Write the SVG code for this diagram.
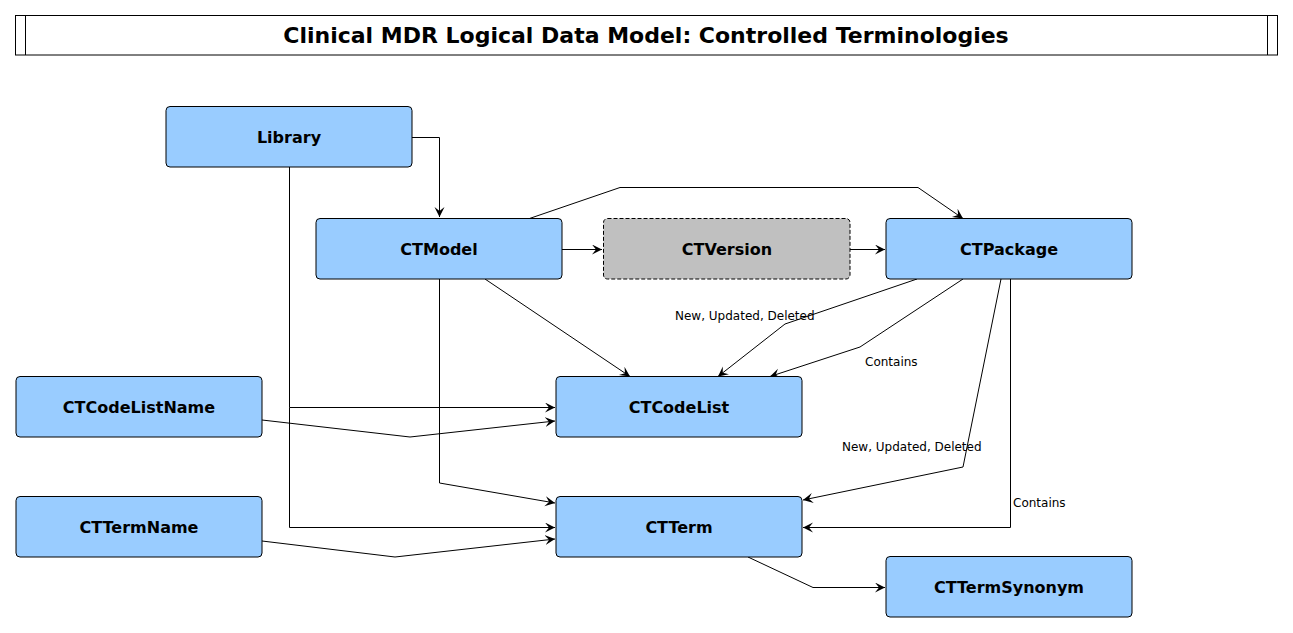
<svg xmlns="http://www.w3.org/2000/svg" width="1293" height="633" viewBox="0 0 1293 633">
<style>
.n rect{fill:#99ccff;stroke:#000;stroke-width:1}
.n text,.t{font-family:"DejaVu Sans",sans-serif;font-weight:bold;font-size:16px;text-anchor:middle;fill:#000}
.e path{fill:none;stroke:#000;stroke-width:1;marker-end:url(#a)}
.l{font-family:"DejaVu Sans",sans-serif;font-size:12px;fill:#000}
</style>
<defs>
<marker id="a" markerWidth="12" markerHeight="12" refX="10" refY="5" orient="auto" markerUnits="userSpaceOnUse">
<path d="M0,0 L10,5 L0,10 L4,5 Z" fill="#000"/>
</marker>
</defs>
<rect width="1293" height="633" fill="#fff"/>
<g id="title">
<rect x="15.5" y="15.5" width="1262" height="39.5" fill="#fff" stroke="#000"/>
<line x1="25.5" y1="15.5" x2="25.5" y2="55" stroke="#000"/>
<line x1="1267.5" y1="15.5" x2="1267.5" y2="55" stroke="#000"/>
<text class="t" x="646" y="43" style="font-size:22px">Clinical MDR Logical Data Model: Controlled Terminologies</text>
</g>
<g class="e" id="connectors">
<path d="M412,137.5 H439.5 V217"/>
<path d="M562,249.5 H602"/>
<path d="M850,249.5 H885"/>
<path d="M528,219 L620,187.5 H918 L963,218.5"/>
<path d="M485,279 L630,376.5"/>
<path d="M439.5,279 V483 L555,503"/>
<path d="M289.5,167 V407.5 H555"/>
<path d="M289.5,407.5 V527.5 H555"/>
<path d="M262,420 L410,437 L555,421"/>
<path d="M262,541 L395,557 L555,539"/>
<path d="M917,279 L785,324 L718,376.5"/>
<path d="M963,279 L860,347 L770,376.5"/>
<path d="M1001,279 L963,467 L803,500"/>
<path d="M1010.5,279 V527.5 H803"/>
<path d="M748,557 L813,587.5 H885"/>
</g>
<text class="l" x="675" y="320">New, Updated, Deleted</text>
<text class="l" x="865" y="366">Contains</text>
<text class="l" x="842" y="451">New, Updated, Deleted</text>
<text class="l" x="1013" y="507">Contains</text>
<g class="n" id="Library"><rect x="166" y="106.5" width="246" height="60.5" rx="4"/><text x="289" y="143">Library</text></g>
<g class="n" id="CTModel"><rect x="316" y="218.5" width="246" height="60.5" rx="4"/><text x="439" y="255">CTModel</text></g>
<g class="n" id="CTVersion"><rect x="603.5" y="218.5" width="246.5" height="60.5" rx="4" style="fill:#c0c0c0;stroke-dasharray:4,2"/><text x="727" y="255">CTVersion</text></g>
<g class="n" id="CTPackage"><rect x="886" y="218.5" width="246" height="60.5" rx="4"/><text x="1009" y="255">CTPackage</text></g>
<g class="n" id="CTCodeListName"><rect x="16" y="376.5" width="246" height="60.5" rx="4"/><text x="139" y="413">CTCodeListName</text></g>
<g class="n" id="CTCodeList"><rect x="556" y="376.5" width="246" height="60.5" rx="4"/><text x="679" y="413">CTCodeList</text></g>
<g class="n" id="CTTermName"><rect x="16" y="496.5" width="246" height="60.5" rx="4"/><text x="139" y="533">CTTermName</text></g>
<g class="n" id="CTTerm"><rect x="556" y="496.5" width="246" height="60.5" rx="4"/><text x="679" y="533">CTTerm</text></g>
<g class="n" id="CTTermSynonym"><rect x="886" y="556.5" width="246" height="60.5" rx="4"/><text x="1009" y="593">CTTermSynonym</text></g>
</svg>
